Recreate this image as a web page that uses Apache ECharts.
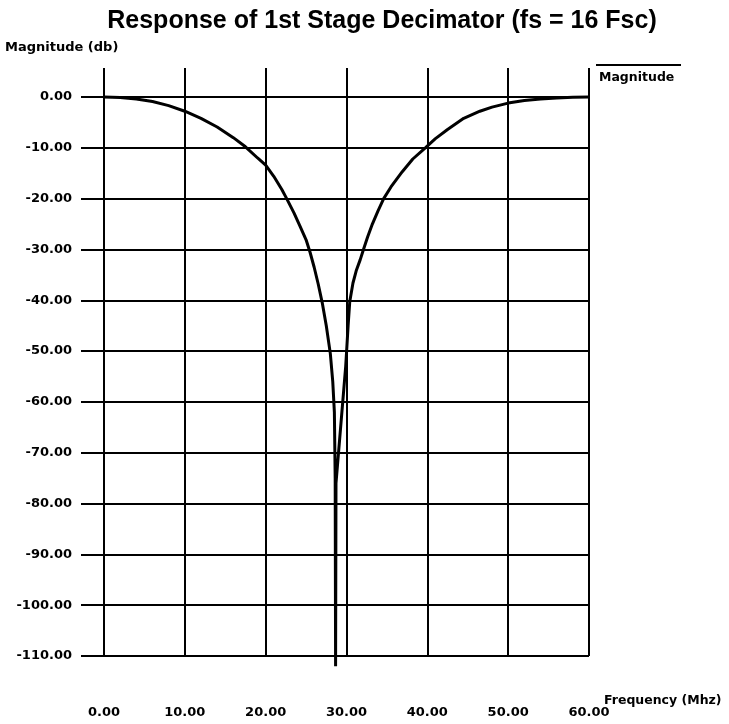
<!DOCTYPE html>
<html>
<head>
<meta charset="utf-8">
<script src="https://cdn.jsdelivr.net/npm/echarts@6/dist/echarts.min.js"></script>
<style>
  html, body { margin: 0; padding: 0; background: #fff; }
  #chart { width: 729px; height: 724px; }
</style>
</head>
<body>
<div id="chart"></div>
<script>
// frequency (Mhz) and magnitude (db)
var freq = [0, 2, 4, 6, 8, 10, 12, 14, 16, 17.5, 19, 20, 21, 22, 22.6, 23.5, 24.3, 25, 25.5, 26, 26.5, 27, 27.5, 28, 28.3, 28.5, 28.6, 28.65,
            28.7, 29.9, 30.0, 30.2, 30.4, 30.8, 31.2, 31.7, 32.1, 32.6, 33.2, 33.9, 34.6, 35.5, 36.9, 38.2, 39.75, 41, 42.5, 44.5, 46.5, 48, 50, 52, 54, 56, 58, 60];
var magnitude = [0, -0.1, -0.4, -0.9, -1.7, -2.8, -4.2, -5.9, -8.0, -9.8, -12.0, -13.4, -15.6, -18.2, -20, -22.8, -25.6, -28.1, -30.6, -33.5, -36.8, -40.5, -45, -50.5, -56, -62, -75, -112,
                 -76, -53, -50.4, -45, -40.3, -36.6, -34.2, -32, -30, -27.6, -25, -22.4, -20, -17.7, -14.7, -12.2, -10, -8.2, -6.4, -4.2, -2.8, -2.0, -1.2, -0.7, -0.4, -0.2, -0.05, 0];
var xTicks = [0, 10, 20, 30, 40, 50, 60];
var yTicks = [0, -10, -20, -30, -40, -50, -60, -70, -80, -90, -100, -110];

var seriesData = freq.map(function (f, i) { return [f, magnitude[i]]; });
var font = '"DejaVu Sans", "Liberation Sans", sans-serif';

var myChart = echarts.init(document.getElementById('chart'));
var option = {
  backgroundColor: '#fff',
  animation: false,
  title: [
    {
      text: 'Response of 1st Stage Decimator (fs = 16 Fsc)',
      left: 377, top: 4, textAlign: 'center',
      textStyle: { fontFamily: '"Liberation Sans", sans-serif', fontWeight: 'bold', fontSize: 25, color: '#000' }
    },
    {
      text: 'Magnitude (db)',
      left: 0, top: 36,
      textStyle: { fontFamily: font, fontWeight: 'bold', fontSize: 13, color: '#000' }
    },
    {
      text: 'Frequency (Mhz)',
      left: 599, top: 689,
      textStyle: { fontFamily: font, fontWeight: 'bold', fontSize: 12.5, color: '#000' }
    }
  ],
  legend: {
    data: ['Magnitude'],
    left: 589, top: 66,
    icon: 'rect', itemWidth: 0, itemHeight: 0, itemGap: 0,
    textStyle: { fontFamily: font, fontWeight: 'bold', fontSize: 12.5, color: '#000' }
  },
  graphic: [
    { type: 'line', shape: { x1: 596, y1: 65, x2: 681, y2: 65 }, style: { stroke: '#000', lineWidth: 2 } }
  ],
  grid: { left: 104, right: 140, top: 97, bottom: 68 },
  xAxis: [
    {
      type: 'value', min: xTicks[0], max: xTicks[xTicks.length - 1], interval: 10,
      axisLine: { show: false },
      axisTick: { show: true, length: 38, lineStyle: { color: '#000', width: 2 } },
      axisLabel: {
        margin: 50, color: '#000', fontFamily: font, fontWeight: 'bold', fontSize: 13,
        formatter: function (v) { return v.toFixed(2); }
      },
      splitLine: { show: true, lineStyle: { color: '#000', width: 2 } }
    },
    {
      type: 'value', position: 'top', min: xTicks[0], max: xTicks[xTicks.length - 1], interval: 10,
      axisLine: { show: false },
      axisTick: { show: true, length: 29, lineStyle: { color: '#000', width: 2 } },
      axisLabel: { show: false },
      splitLine: { show: false }
    }
  ],
  yAxis: {
    type: 'value', min: yTicks[yTicks.length - 1], max: yTicks[0], interval: 10,
    axisLine: { show: true, lineStyle: { color: '#000', width: 2 } },
    axisTick: { show: true, length: 23, lineStyle: { color: '#000', width: 2 } },
    axisLabel: {
      margin: 32, color: '#000', fontFamily: font, fontWeight: 'bold', fontSize: 13,
      formatter: function (v) { return v.toFixed(2); }
    },
    splitLine: { show: true, lineStyle: { color: '#000', width: 2 } }
  },
  series: [
    {
      name: 'Magnitude',
      type: 'line',
      data: seriesData,
      showSymbol: false,
      clip: false,
      smooth: false,
      lineStyle: { color: '#000', width: 3 },
      itemStyle: { color: '#000' }
    }
  ]
};
myChart.setOption(option);
window.addEventListener('resize', function () {
  myChart.resize();
});
</script>
</body>
</html>
